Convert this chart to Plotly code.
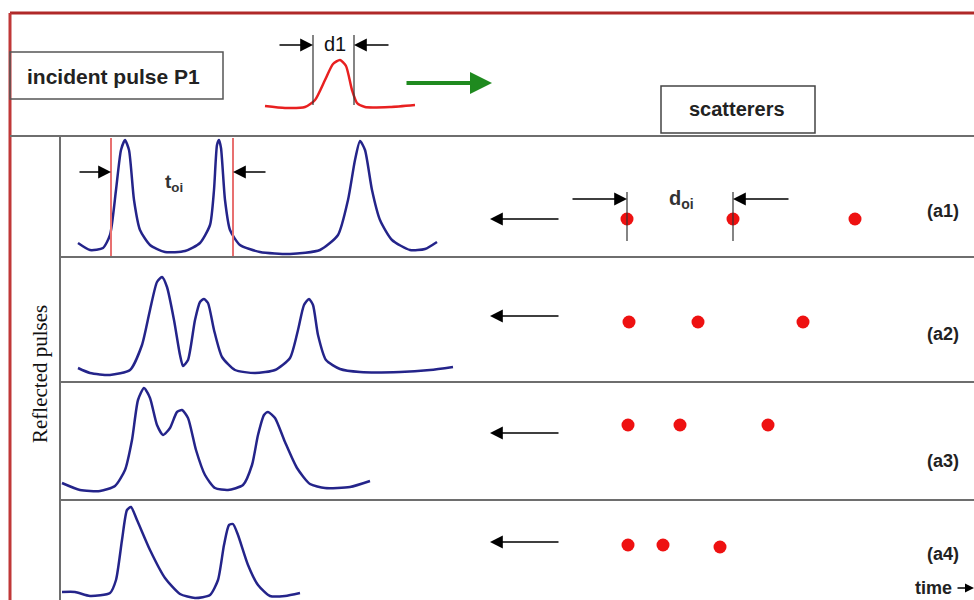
import plotly.graph_objects as go

# ---- data (diagram coordinates) ----
incident_x = [265, 285, 305, 315, 325, 333, 340, 346, 352, 357, 365, 390, 415]
incident_y = [106, 108, 107, 100, 80, 64, 60, 66, 90, 103, 107, 107, 105]

a1_x = [78, 90, 103, 110, 116, 121, 125, 129, 134, 140, 150, 165, 185, 200, 210, 214, 217, 219, 221, 225, 230, 240, 260, 290, 320, 338, 348, 355, 360, 365, 372, 380, 392, 410, 425, 437]
a1_y = [243, 250, 248, 235, 190, 150, 140, 150, 200, 230, 245, 252, 251, 243, 225, 190, 145, 140, 148, 200, 230, 245, 252, 254, 250, 235, 200, 160, 141, 150, 190, 220, 240, 250, 249, 242]

a2_x = [78, 90, 110, 130, 142, 150, 157, 162, 167, 174, 180, 183, 188, 195, 200, 204, 208, 214, 222, 235, 255, 275, 290, 298, 304, 309, 313, 318, 326, 340, 360, 400, 430, 453]
a2_y = [368, 373, 375, 370, 345, 310, 282, 277, 287, 320, 355, 366, 360, 320, 302, 299, 303, 330, 357, 370, 373, 370, 358, 330, 305, 299, 305, 335, 360, 369, 372, 372, 370, 367]

a3_x = [62, 80, 100, 115, 125, 132, 138, 144, 150, 157, 163, 170, 177, 182, 188, 196, 205, 215, 228, 243, 252, 258, 264, 268, 275, 285, 297, 310, 325, 350, 370]
a3_y = [483, 490, 491, 486, 470, 440, 400, 388, 398, 425, 435, 428, 412, 410, 418, 450, 475, 488, 490, 485, 465, 435, 415, 412, 418, 442, 468, 484, 488, 487, 481]

a4_x = [62, 75, 90, 110, 116, 122, 127, 131, 137, 150, 165, 180, 195, 210, 218, 224, 229, 233, 238, 248, 258, 270, 285, 300]
a4_y = [592, 592, 596, 593, 580, 540, 510, 507, 520, 550, 578, 594, 598, 595, 580, 545, 525, 524, 535, 565, 585, 596, 596, 593]

scat_x = [[627, 733, 855], [629, 698, 803], [628, 680, 768], [628, 663, 720]]
scat_y = [[219, 219, 219], [322, 322, 322], [425, 425, 425], [545, 545, 547]]
row_labels = ["(a1)", "(a2)", "(a3)", "(a4)"]
label_y = [211, 334, 461, 554]
back_arrow_y = [219, 316, 433, 542]

fig = go.Figure()

BLUE = "#24248a"
RED = "#e82020"

fig.add_trace(go.Scatter(x=incident_x, y=incident_y, mode="lines",
                         line=dict(color=RED, width=2.5, shape="spline", smoothing=0.6)))
for xs, ys in [(a1_x, a1_y), (a2_x, a2_y), (a3_x, a3_y), (a4_x, a4_y)]:
    fig.add_trace(go.Scatter(x=xs, y=ys, mode="lines",
                             line=dict(color=BLUE, width=2.5, shape="spline", smoothing=0.6)))
for xs, ys in zip(scat_x, scat_y):
    fig.add_trace(go.Scatter(x=xs, y=ys, mode="markers",
                             marker=dict(color="#ee1111", size=13, line=dict(width=0))))

shapes = []
# frame
shapes.append(dict(type="line", x0=10, x1=974, y0=13, y1=13, line=dict(color="#b02828", width=3)))
shapes.append(dict(type="line", x0=10, x1=10, y0=13, y1=600, line=dict(color="#c03838", width=3)))
# separators
shapes.append(dict(type="line", x0=10, x1=974, y0=136, y1=136, line=dict(color="#6e6e6e", width=2)))
for yy in [257, 382, 500]:
    shapes.append(dict(type="line", x0=60, x1=974, y0=yy, y1=yy, line=dict(color="#6e6e6e", width=2)))
shapes.append(dict(type="line", x0=60, x1=60, y0=136, y1=600, line=dict(color="#6e6e6e", width=2)))
# boxes
shapes.append(dict(type="rect", x0=10, x1=223, y0=52, y1=99, line=dict(color="#555555", width=1.5)))
shapes.append(dict(type="rect", x0=661, x1=815, y0=86, y1=133, line=dict(color="#444444", width=1.5)))
# d1 marker lines
for xx in [313, 354]:
    shapes.append(dict(type="line", x0=xx, x1=xx, y0=35, y1=105, line=dict(color="#333333", width=1.2)))
# t_oi red lines
for xx in [111, 233]:
    shapes.append(dict(type="line", x0=xx, x1=xx, y0=138, y1=256, line=dict(color="#e87070", width=2)))
# d_oi lines
for xx in [627, 733]:
    shapes.append(dict(type="line", x0=xx, x1=xx, y0=192, y1=241, line=dict(color="#333333", width=1.2)))

fig.update_layout(shapes=shapes)

ann = []
def arrow(x_head, y_head, x_tail, y_tail, color="black", width=1.6, size=1.6):
    ann.append(dict(x=x_head, y=y_head, ax=x_tail, ay=y_tail, xref="x", yref="y",
                    axref="x", ayref="y", text="", showarrow=True, arrowhead=2,
                    arrowsize=size, arrowwidth=width, arrowcolor=color))

def text(x, y, s, size=14, bold=True, family="Liberation Sans, Arial", color="#222222", angle=0, xanchor="center"):
    ann.append(dict(x=x, y=y, xref="x", yref="y", text=("<b>%s</b>" % s) if bold else s,
                    showarrow=False, font=dict(size=size, family=family, color=color),
                    textangle=angle, xanchor=xanchor, yanchor="middle"))

arrow(313, 45, 278, 45)
arrow(354, 45, 390, 45)
arrow(492, 83, 405, 83, color="#1f8a1f", width=4, size=1.1)
arrow(111, 172, 78, 172)
arrow(233, 172, 267, 172)
arrow(627, 199, 571, 199)
arrow(733, 199, 790, 199)
for yy in back_arrow_y:
    arrow(490, yy, 560, yy)
arrow(974, 588, 956, 588, width=1.5, size=1.2)

text(113, 76, "incident pulse P1", size=21)
text(737, 109, "scatterers", size=20)
text(335, 44, "d1", size=20, bold=False, color="#111111")
text(174, 183, "t<sub>oi</sub>", size=19, color="#333333")
text(681, 199, "d<sub>oi</sub>", size=20, color="#333333")
for lab, yy in zip(row_labels, label_y):
    text(943, yy, lab, size=18)
text(933, 588, "time", size=18)
text(40, 374, "Reflected pulses", size=21, bold=False, family="Liberation Serif, Times New Roman",
     color="#111111", angle=-90)

fig.update_layout(
    annotations=ann,
    width=974, height=600,
    margin=dict(l=0, r=0, t=0, b=0),
    paper_bgcolor="white", plot_bgcolor="white",
    showlegend=False,
    xaxis=dict(range=[0, 974], visible=False, fixedrange=True),
    yaxis=dict(range=[600, 0], visible=False, fixedrange=True),
)
fig.write_html("out.html")
